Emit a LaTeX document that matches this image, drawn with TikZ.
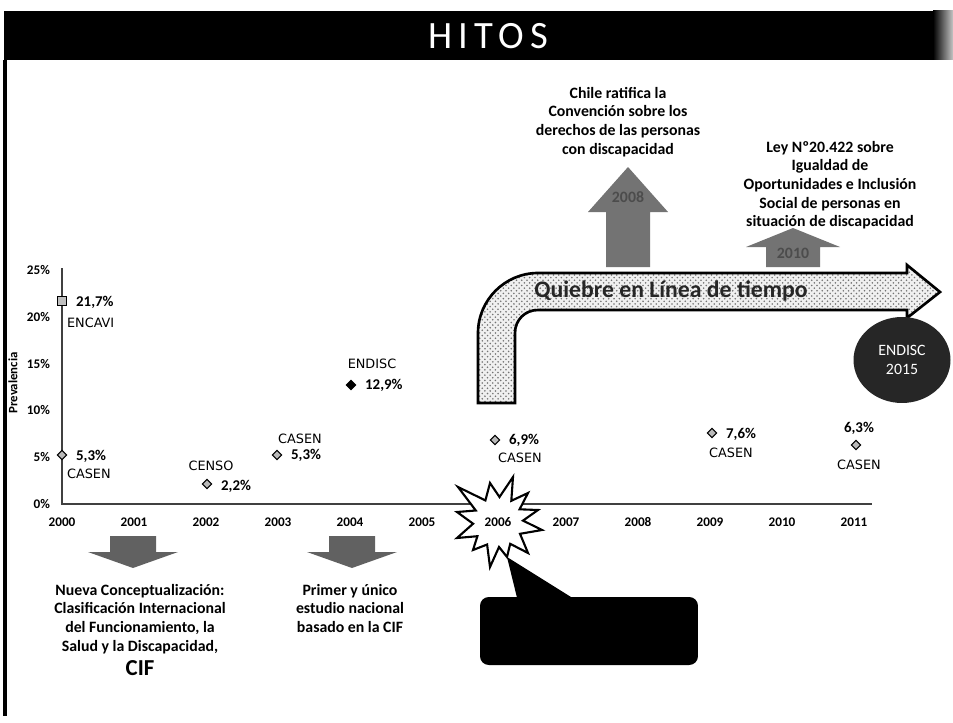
\documentclass[tikz,border=0pt]{standalone}
\usepackage{fontspec}
\setmainfont{Carlito}
\newfontfamily\dvsans{DejaVu Sans}
\usetikzlibrary{positioning,shapes.geometric,patterns}

\begin{document}
\begin{tikzpicture}[x=0.02cm,y=-0.02cm,
  yearlbl/.style={font=\bfseries\fontsize{7.5}{9}\selectfont, inner sep=1pt},
  pctlbl/.style={font=\bfseries\fontsize{8.5}{10}\selectfont, inner sep=1pt},
  srclbl/.style={font=\dvsans\fontsize{7.3}{9}\selectfont, inner sep=1pt},
  hitotxt/.style={align=center, font=\bfseries\fontsize{9}{10.6}\selectfont},
  datapt/.style={diamond, draw=black, line width=0.6pt, fill=gray!55, inner sep=0pt, minimum size=5.5pt},
  blockarrow/.style={fill=black!62}]
\useasboundingbox (0,0) rectangle (953,723);

% title bar and frame
\fill[black] (4,11) rectangle (934,60);
\shade[left color=black, right color=gray!45] (933,11) rectangle (953,60);
\node[text=white, font=\fontsize{22}{26}\selectfont\addfontfeatures{LetterSpace=16}] (title) at (488,36) {HITOS};
\draw[line width=2pt] (5,60) -- (5,716);

% axes
\coordinate (O) at (62,504);
\coordinate (Ytop) at ([shift={(0,-236)}]O);
\coordinate (Xend) at ([shift={(810,0)}]O);
\draw[black!75, line width=0.9pt] (Ytop) -- (O) -- (Xend);
\foreach \v in {0,5,...,25}
  \node[yearlbl, anchor=east] (ylbl\v) at ([shift={(-10,-\v*9.36)}]O) {\v\%};
\node[rotate=90, font=\bfseries\fontsize{7.3}{8}\selectfont] (prev) at (13,383) {Prevalencia};
\foreach \yr/\i in {2000/0,2001/1,2002/2,2003/3,2004/4,2005/5,2007/7,2008/8,2009/9,2010/10,2011/11}
  \node[yearlbl] (yr\yr) at ([shift={(\i*72,18)}]O) {\yr};

% 2006 burst and callout
\draw[shift={(498,522)}, fill=white, line width=1.2pt, line join=miter]
  (-40,-35) -- (-12.6,-21.6) -- (-8,-39) -- (1.5,-25) -- (15,-45) -- (13.3,-21.2) -- (30,-29)
  -- (21.6,-12.7) -- (40,-12) -- (25,-1.4) -- (44,8) -- (22,11.8) -- (30,31) -- (12.2,21.8)
  -- (9,35) -- (1,25) -- (-8,45) -- (-10.9,22.5) -- (-25,28) -- (-20.6,14.2) -- (-41,16)
  -- (-24.9,1.7) -- (-41,-10) -- (-22.2,-11.5) -- cycle;
\node[yearlbl] (burst) at (498,522) {2006};
\node[fill=black, rounded corners=5pt, minimum width=4.36cm, minimum height=1.36cm] (callout) at (589,631) {};
\coordinate (calltip) at (507,557);
\fill (calltip) -- ([shift={(-72,1)}]callout.north) -- ([shift={(-17,1)}]callout.north) -- cycle;

% data points
\node[rectangle, draw=black, line width=0.5pt, fill=gray!50, inner sep=0pt, minimum size=5pt] (encavi) at (62,301) {};
\node[pctlbl, anchor=west] (encavi_v) at ([shift={(12,1)}]encavi) {21,7\%};
\node[srclbl, anchor=west] (encavi_s) at ([shift={(3,22)}]encavi) {ENCAVI};

\node[datapt] (casen00) at (62,455) {};
\node[pctlbl, anchor=west] (casen00_v) at ([shift={(12,1)}]casen00) {5,3\%};
\node[srclbl, anchor=west] (casen00_s) at ([shift={(3,19)}]casen00) {CASEN};

\node[datapt] (censo) at (207,484) {};
\node[pctlbl, anchor=west] (censo_v) at ([shift={(12,2)}]censo) {2,2\%};
\node[srclbl] (censo_s) at ([shift={(4,-18)}]censo) {CENSO};

\node[datapt] (casen03) at (277,455) {};
\node[pctlbl, anchor=west] (casen03_v) at ([shift={(12,0)}]casen03) {5,3\%};
\node[srclbl] (casen03_s) at ([shift={(23,-16)}]casen03) {CASEN};

\node[datapt, fill=black] (endisc04) at (351,385) {};
\node[pctlbl, anchor=west] (endisc04_v) at ([shift={(12,0)}]endisc04) {12,9\%};
\node[srclbl] (endisc04_s) at ([shift={(21,-21)}]endisc04) {ENDISC};

\node[datapt] (casen06) at (495,440) {};
\node[pctlbl, anchor=west] (casen06_v) at ([shift={(12,0)}]casen06) {6,9\%};
\node[srclbl] (casen06_s) at ([shift={(25,18)}]casen06) {CASEN};

\node[datapt] (casen09) at (712,433) {};
\node[pctlbl, anchor=west] (casen09_v) at ([shift={(12,1)}]casen09) {7,6\%};
\node[srclbl] (casen09_s) at ([shift={(19,20)}]casen09) {CASEN};

\node[datapt] (casen11) at (856,445) {};
\node[pctlbl] (casen11_v) at ([shift={(3,-17)}]casen11) {6,3\%};
\node[srclbl] (casen11_s) at ([shift={(3,20)}]casen11) {CASEN};

% down arrows and texts
\foreach \ax/\nm in {133/dn1,352/dn2} {
  \coordinate (\nm) at (\ax,536);
  \fill[blockarrow] ([shift={(-23,0)}]\nm) -- ([shift={(23,0)}]\nm) -- ([shift={(23,16)}]\nm)
    -- ([shift={(45,16)}]\nm) -- ([shift={(0,32)}]\nm) -- ([shift={(-45,16)}]\nm) -- ([shift={(-23,16)}]\nm) -- cycle;
}
\node[hitotxt, anchor=north] (cif_txt) at (140,578) {Nueva Conceptualización:\\ Clasificación Internacional\\ del Funcionamiento, la\\ Salud y la Discapacidad,\\[3pt] {\fontsize{13}{14}\selectfont CIF}};
\node[hitotxt, anchor=north] (endisc_txt) at (350,578) {Primer y único\\ estudio nacional\\ basado en la CIF};

% bent arrow
\draw[line width=1.5pt, preaction={fill=gray!12}, pattern=crosshatch dots, pattern color=black!55]
  (478,403) -- (478,333) .. controls (478,300) and (505,273) .. (538,273) -- (907,273) -- (907,265)
  -- (940,292) -- (907,318) -- (907,310) -- (538,310) .. controls (525,310) and (515,320) .. (515,333)
  -- (515,403) -- cycle;
\node[font=\bfseries\fontsize{13.5}{15}\selectfont, text=black!85] (quiebre) at (671,291) {Quiebre en Línea de tiempo};

% up arrows
\coordinate (up1) at (628,267);
\fill[blockarrow, fill=black!55] ([shift={(-22,0)}]up1) -- ([shift={(22,0)}]up1) -- ([shift={(22,-55)}]up1)
  -- ([shift={(40,-55)}]up1) -- ([shift={(0,-100)}]up1) -- ([shift={(-40,-55)}]up1) -- ([shift={(-22,-55)}]up1) -- cycle;
\node[font=\bfseries\fontsize{9}{10}\selectfont, text=black!70] (y2008) at ([shift={(0,-70)}]up1) {2008};
\coordinate (up2) at (793,267);
\fill[blockarrow, fill=black!55] ([shift={(-27,0)}]up2) -- ([shift={(27,0)}]up2) -- ([shift={(27,-20)}]up2)
  -- ([shift={(47,-20)}]up2) -- ([shift={(0,-39)}]up2) -- ([shift={(-47,-20)}]up2) -- ([shift={(-27,-20)}]up2) -- cycle;
\node[font=\bfseries\fontsize{9}{10}\selectfont, text=black!70] (y2010) at ([shift={(0,-14)}]up2) {2010};

\node[hitotxt, anchor=north] (ratifica_txt) at (618,81) {Chile ratifica la\\ Convención sobre los\\ derechos de las personas\\ con discapacidad};
\node[hitotxt, anchor=north] (ley_txt) at (830,135) {Ley Nº20.422 sobre\\ Igualdad de\\ Oportunidades e Inclusión\\ Social de personas en\\ situación de discapacidad};

% ENDISC 2015
\node[ellipse, fill=black!85, text=white, minimum width=1.94cm, minimum height=1.72cm, align=center,
  font=\fontsize{9}{11}\selectfont] (endisc15) at (902,360) {ENDISC\\2015};
\end{tikzpicture}
\end{document}
